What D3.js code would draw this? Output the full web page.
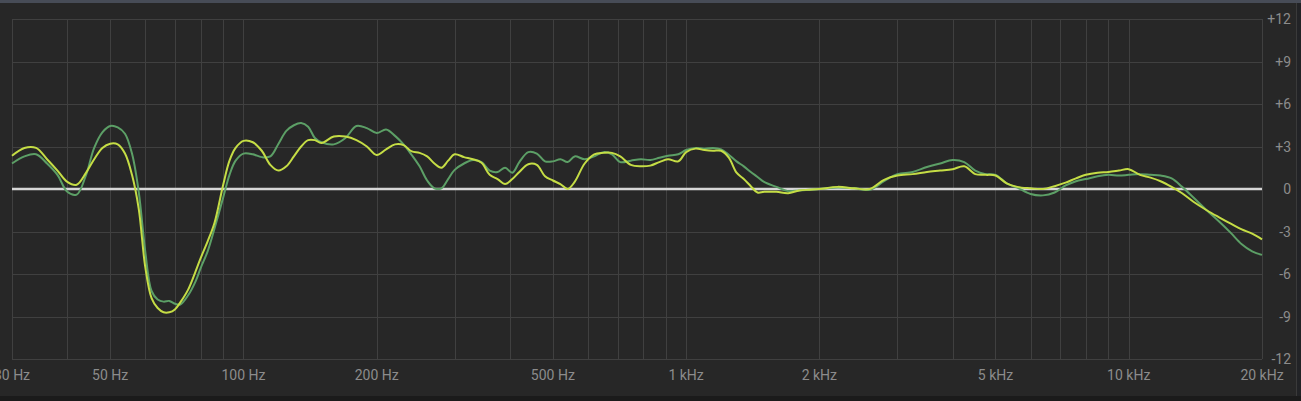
<!DOCTYPE html>
<html>
<head>
<meta charset="utf-8">
<script src="https://cdn.jsdelivr.net/npm/d3@7"></script>
<style>
  html, body { margin: 0; padding: 0; background: #272727; overflow: hidden; }
  svg { display: block; }
</style>
</head>
<body>
<svg id="chart" width="1301" height="401"></svg>
<script>
// ---- data ----
const freqs = [30,32,34,36,38,40,42,44,46,48,50,52,54,56,58,60,62,64,66,68,70,72,75,78,80,83,86,90,93,96,
  100,105,110,115,120,125,130,135,140,145,150,160,170,180,190,200,210,220,230,240,250,260,270,280,290,
  300,315,330,345,360,375,390,405,420,440,460,480,500,520,540,560,590,620,650,680,710,750,790,830,870,910,960,
  1000,1050,1100,1150,1200,1250,1300,1350,1400,1450,1500,1600,1700,1800,1900,2000,2200,2400,2600,2800,
  3000,3250,3500,3750,4000,4250,4500,4750,5000,5300,5600,6000,6400,6800,7200,7600,8000,8500,9000,9500,
  10000,10600,11200,11800,12500,13200,14000,15000,16000,17000,18000,19000,20000];

const yellowDb = [2.35,2.9,2.9,2.1,1.3,0.5,0.3,1.1,2.1,2.9,3.2,3.15,2.5,1.0,-1.4,-5.5,-7.7,-8.4,-8.7,-8.7,-8.5,-8.0,-7.1,-5.8,-4.9,-3.7,-2.4,0.3,2.0,2.9,
  3.4,3.3,2.7,1.7,1.3,1.6,2.3,3.0,3.45,3.45,3.25,3.7,3.7,3.45,3.0,2.4,2.8,3.15,3.1,2.65,2.55,2.3,1.8,1.5,2.0,
  2.45,2.25,2.1,1.85,1.0,0.7,0.35,0.7,1.2,1.75,1.7,0.9,0.6,0.35,0.0,0.5,1.8,2.45,2.55,2.55,2.3,1.7,1.6,1.65,1.9,2.1,1.95,
  2.6,2.85,2.75,2.7,2.7,2.2,1.15,0.7,0.2,-0.25,-0.2,-0.2,-0.3,-0.1,-0.05,0.0,0.15,0.05,0.0,0.65,
  0.95,1.05,1.2,1.3,1.4,1.6,1.05,1.0,0.95,0.4,0.15,0.05,0.0,0.2,0.45,0.75,1.0,1.15,1.2,1.3,
  1.4,1.0,0.8,0.55,0.15,-0.3,-0.9,-1.5,-2.0,-2.45,-2.85,-3.15,-3.55];

const greenDb = [1.8,2.3,2.45,1.8,1.0,-0.2,-0.4,0.9,2.9,4.0,4.45,4.35,3.9,2.5,-0.2,-4.4,-7.2,-7.8,-7.95,-7.9,-8.1,-8.15,-7.5,-6.5,-5.6,-4.4,-2.8,-0.6,1.0,2.0,
  2.5,2.45,2.25,2.3,3.2,4.1,4.5,4.66,4.4,3.6,3.3,3.15,3.6,4.45,4.3,3.95,4.2,3.75,3.15,2.4,1.6,0.6,0.05,0.05,0.7,
  1.35,1.8,2.05,1.9,1.3,1.2,1.5,1.15,1.9,2.6,2.5,1.95,1.95,2.1,1.9,2.3,2.1,2.3,2.6,2.45,1.9,2.0,2.1,2.05,2.2,2.35,2.45,
  2.75,2.9,2.85,2.9,2.8,2.4,1.95,1.6,1.2,0.85,0.5,0.15,-0.15,-0.1,-0.05,0.0,0.1,0.05,-0.05,0.55,
  1.05,1.2,1.55,1.8,2.05,1.9,1.3,1.05,1.0,0.4,0.1,-0.35,-0.45,-0.25,0.25,0.55,0.7,0.9,1.0,0.95,
  1.0,1.05,1.0,0.95,0.75,0.15,-0.6,-1.5,-2.3,-3.1,-3.9,-4.4,-4.65];

const xTickValues = [30,50,100,200,500,1000,2000,5000,10000,20000];
const xTickLabels = ["30 Hz","50 Hz","100 Hz","200 Hz","500 Hz","1 kHz","2 kHz","5 kHz","10 kHz","20 kHz"];
const xGridValues = [30,40,50,60,70,80,90,100,200,300,400,500,600,700,800,900,1000,
  2000,3000,4000,5000,6000,7000,8000,9000,10000,20000];
const yTickValues = [12,9,6,3,0,-3,-6,-9,-12];
const yTickLabels = ["+12","+9","+6","+3","0","-3","-6","-9","-12"];

// ---- layout ----
const W = 1301, H = 401;
const plotLeft = 12, plotRight = 1262, plotTop = 19, plotBottom = 359;

const svg = d3.select("#chart");
svg.append("rect").attr("x",0).attr("y",0).attr("width",W).attr("height",H).attr("fill","#272727");
svg.append("rect").attr("x",0).attr("y",0).attr("width",W).attr("height",3).attr("fill","#474c57");
svg.append("rect").attr("x",0).attr("y",396).attr("width",W).attr("height",5).attr("fill","#1b1b1b");
svg.append("rect").attr("x",1296).attr("y",3).attr("width",1).attr("height",393).attr("fill","#3a3a3a");
svg.append("rect").attr("x",1297).attr("y",3).attr("width",4).attr("height",393).attr("fill","#222326");

const x = d3.scaleLog().domain([30,20000]).range([plotLeft,plotRight]);
const y = d3.scaleLinear().domain([-12,12]).range([plotBottom,plotTop]);

// grid
const grid = svg.append("g");
grid.selectAll("line.v").data(xGridValues).enter().append("line")
  .attr("x1",d=>Math.round(x(d))+0.5).attr("x2",d=>Math.round(x(d))+0.5)
  .attr("y1",plotTop).attr("y2",plotBottom)
  .attr("stroke","#404040").attr("stroke-width",1);
grid.selectAll("line.h").data(yTickValues.filter(d=>d!==0)).enter().append("line")
  .attr("x1",plotLeft).attr("x2",plotRight)
  .attr("y1",d=>Math.round(y(d))+0.5).attr("y2",d=>Math.round(y(d))+0.5)
  .attr("stroke","#404040").attr("stroke-width",1);

// x axis labels
svg.append("g").selectAll("text").data(xTickValues).enter().append("text")
  .attr("x",d=>x(d)).attr("y",380)
  .attr("text-anchor","middle")
  .attr("font-family","Roboto, 'Noto Sans', sans-serif")
  .attr("font-size",14)
  .attr("fill","#8c8c8c")
  .text((d,i)=>xTickLabels[i]);

// y axis labels (right)
svg.append("g").selectAll("text").data(yTickValues).enter().append("text")
  .attr("x",1291).attr("y",d=>y(d)+5)
  .attr("text-anchor","end")
  .attr("font-family","Roboto, 'Noto Sans', sans-serif")
  .attr("font-size",14)
  .attr("fill","#8c8c8c")
  .text((d,i)=>yTickLabels[i]);

// zero line
svg.append("line").attr("x1",plotLeft).attr("x2",plotRight)
  .attr("y1",y(0)).attr("y2",y(0))
  .attr("stroke","#d6d6d6").attr("stroke-width",2.5);

// curves
const line = d3.line()
  .x(d=>x(d[0])).y(d=>y(d[1]))
  .curve(d3.curveCatmullRom.alpha(0.5));

svg.append("path")
  .datum(freqs.map((f,i)=>[f,greenDb[i]]))
  .attr("d",line).attr("fill","none")
  .attr("stroke","#5c9f66").attr("stroke-width",2);

svg.append("path")
  .datum(freqs.map((f,i)=>[f,yellowDb[i]]))
  .attr("d",line).attr("fill","none")
  .attr("stroke","#c5dd45").attr("stroke-width",2);
</script>
</body>
</html>
